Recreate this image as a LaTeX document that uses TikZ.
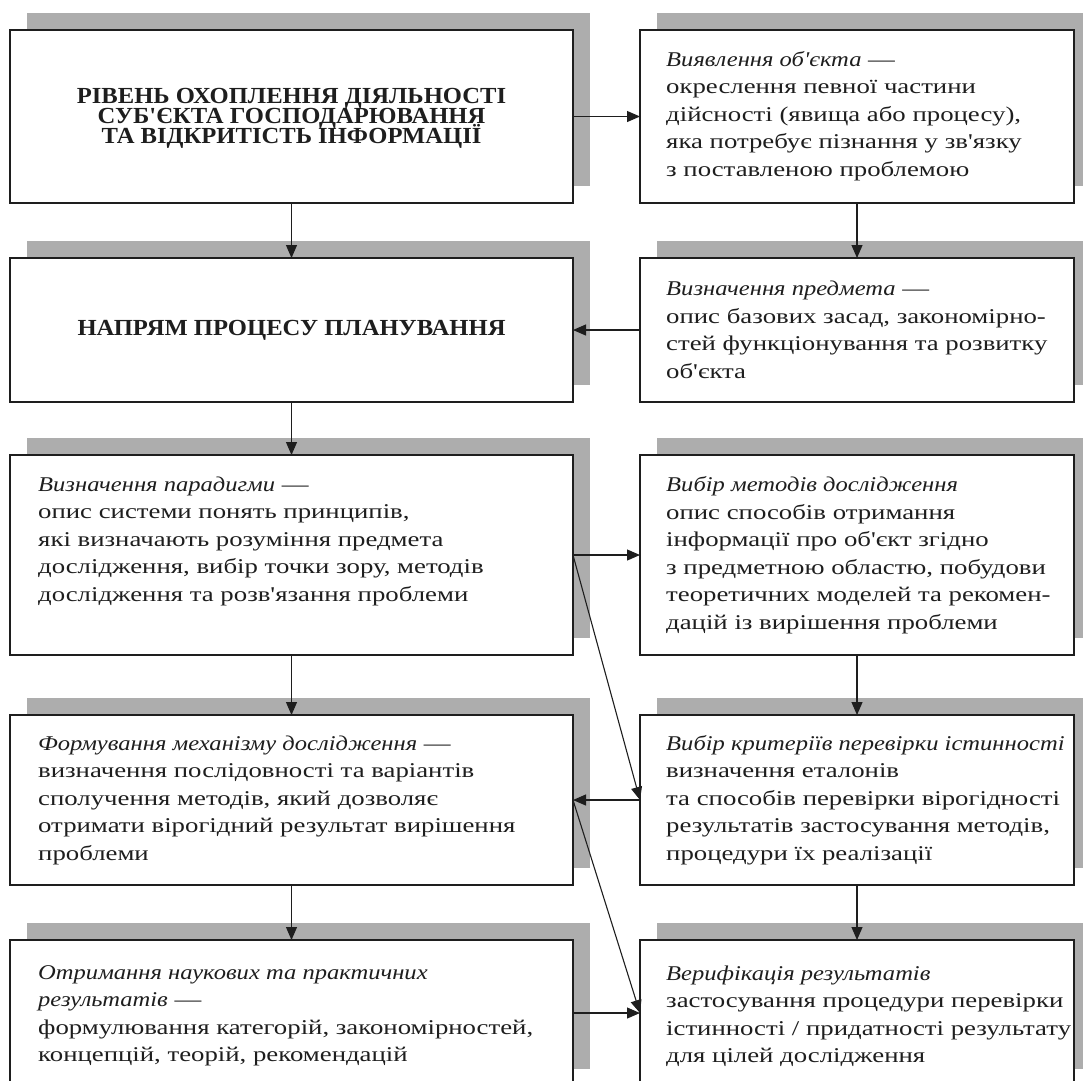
\documentclass[tikz,border=0pt]{standalone}
\usepackage{fontspec}
\setmainfont{Liberation Serif}[Ligatures=TeXOff,
  UprightFeatures={FakeStretch=1.275},
  ItalicFeatures={FakeStretch=1.17}]
\newfontfamily\headfont{Liberation Serif}[FakeStretch=1.07, Ligatures=TeXOff]
\usetikzlibrary{arrows.meta,shadows}
\definecolor{shade}{HTML}{ADADAD}
\definecolor{ink}{HTML}{1E1E1E}
% keep the fixed baseline distance in tightly set headings
\setlength{\lineskiplimit}{-30pt}

\begin{document}
\begin{tikzpicture}[x=1pt,y=-1pt,
  box/.style={draw=ink, line width=1.6pt, fill=white, rectangle, inner sep=0pt, outer sep=0pt,
    general shadow={fill=shade, shadow xshift=17pt, shadow yshift=17pt}},
  lbox/.style={box, minimum width=563pt},
  rbox/.style={box, minimum width=434pt},
  body/.style={align=left, inner sep=0pt, anchor=west, text=ink,
    font=\fontsize{21}{27.5}\selectfont},
  head/.style={align=center, inner sep=0pt, text=ink,
    font=\headfont\bfseries\fontsize{23}{20}\selectfont},
  link/.style={draw=ink, line width=1.1pt, -{Triangle[length=13pt,width=11pt]}}
]
\useasboundingbox (0,0) rectangle (1083,1080);
\clip (0,0) rectangle (1083,1080);

% boxes, left and right columns
\node[lbox, minimum height=173pt] (L1) at (291.5,116.5) {};
\node[rbox, minimum height=173pt] (R1) at (857,116.5) {};
\node[lbox, minimum height=144pt] (L2) at (291.5,330) {};
\node[rbox, minimum height=144pt] (R2) at (857,330) {};
\node[lbox, minimum height=200pt] (L3) at (291.5,555) {};
\node[rbox, minimum height=200pt] (R3) at (857,555) {};
\node[lbox, minimum height=170pt] (L4) at (291.5,800) {};
\node[rbox, minimum height=170pt] (R4) at (857,800) {};
\node[lbox, minimum height=146pt] (L5) at (291.5,1013) {};
\node[rbox, minimum height=146pt] (R5) at (857,1013) {};

% texts
\node[head] (tL1) at (291.5,118) {РІВЕНЬ ОХОПЛЕННЯ ДІЯЛЬНОСТІ\\СУБ'ЄКТА ГОСПОДАРЮВАННЯ\\ТА ВІДКРИТІСТЬ ІНФОРМАЦІЇ};
\node[body] (tR1) at (666,116) {\textit{Виявлення об'єкта} —\\окреслення певної частини\\дійсності (явища або процесу),\\яка потребує пізнання у зв'язку\\з поставленою проблемою};
\node[head] (tL2) at (291.5,330) {НАПРЯМ ПРОЦЕСУ ПЛАНУВАННЯ};
\node[body] (tR2) at (666,330) {\textit{Визначення предмета} —\\опис базових засад, закономірно-\\стей функціонування та розвитку\\об'єкта};
\node[body] (tL3) at (38,541) {\textit{Визначення парадигми} —\\опис системи понять принципів,\\які визначають розуміння предмета\\дослідження, вибір точки зору, методів\\дослідження та розв'язання проблеми};
\node[body] (tR3) at (666,555) {\textit{Вибір методів дослідження}\\опис способів отримання\\інформації про об'єкт згідно\\з предметною областю, побудови\\теоретичних моделей та рекомен-\\дацій із вирішення проблеми};
\node[body] (tL4) at (38,800) {\textit{Формування механізму дослідження} —\\визначення послідовності та варіантів\\сполучення методів, який дозволяє\\отримати вірогідний результат вирішення\\проблеми};
\node[body] (tR4) at (666,800) {\textit{Вибір критеріїв перевірки істинності}\\визначення еталонів\\та способів перевірки вірогідності\\результатів застосування методів,\\процедури їх реалізації};
\node[body] (tL5) at (38,1016) {\textit{Отримання наукових та практичних}\\\textit{результатів} —\\формулювання категорій, закономірностей,\\концепцій, теорій, рекомендацій};
\node[body] (tR5) at (666,1016) {\textit{Верифікація результатів}\\застосування процедури перевірки\\істинності / придатності результату\\для цілей дослідження};

% connectors
\draw[link] (L1.east) -- (R1.west);
\draw[link] (R2.west) -- (L2.east);
\draw[link] (L3.east) -- (R3.west);
\draw[link] (L3.east) -- (R4.west);
\draw[link] (R4.west) -- (L4.east);
\draw[link] (L4.east) -- (R5.west);
\draw[link] (L5.east) -- (R5.west);
\draw[link] (L1.south) -- (L2.north);
\draw[link] (L2.south) -- (L3.north);
\draw[link] (L3.south) -- (L4.north);
\draw[link] (L4.south) -- (L5.north);
\draw[link] (R1.south) -- (R2.north);
\draw[link] (R3.south) -- (R4.north);
\draw[link] (R4.south) -- (R5.north);
\end{tikzpicture}
\end{document}
